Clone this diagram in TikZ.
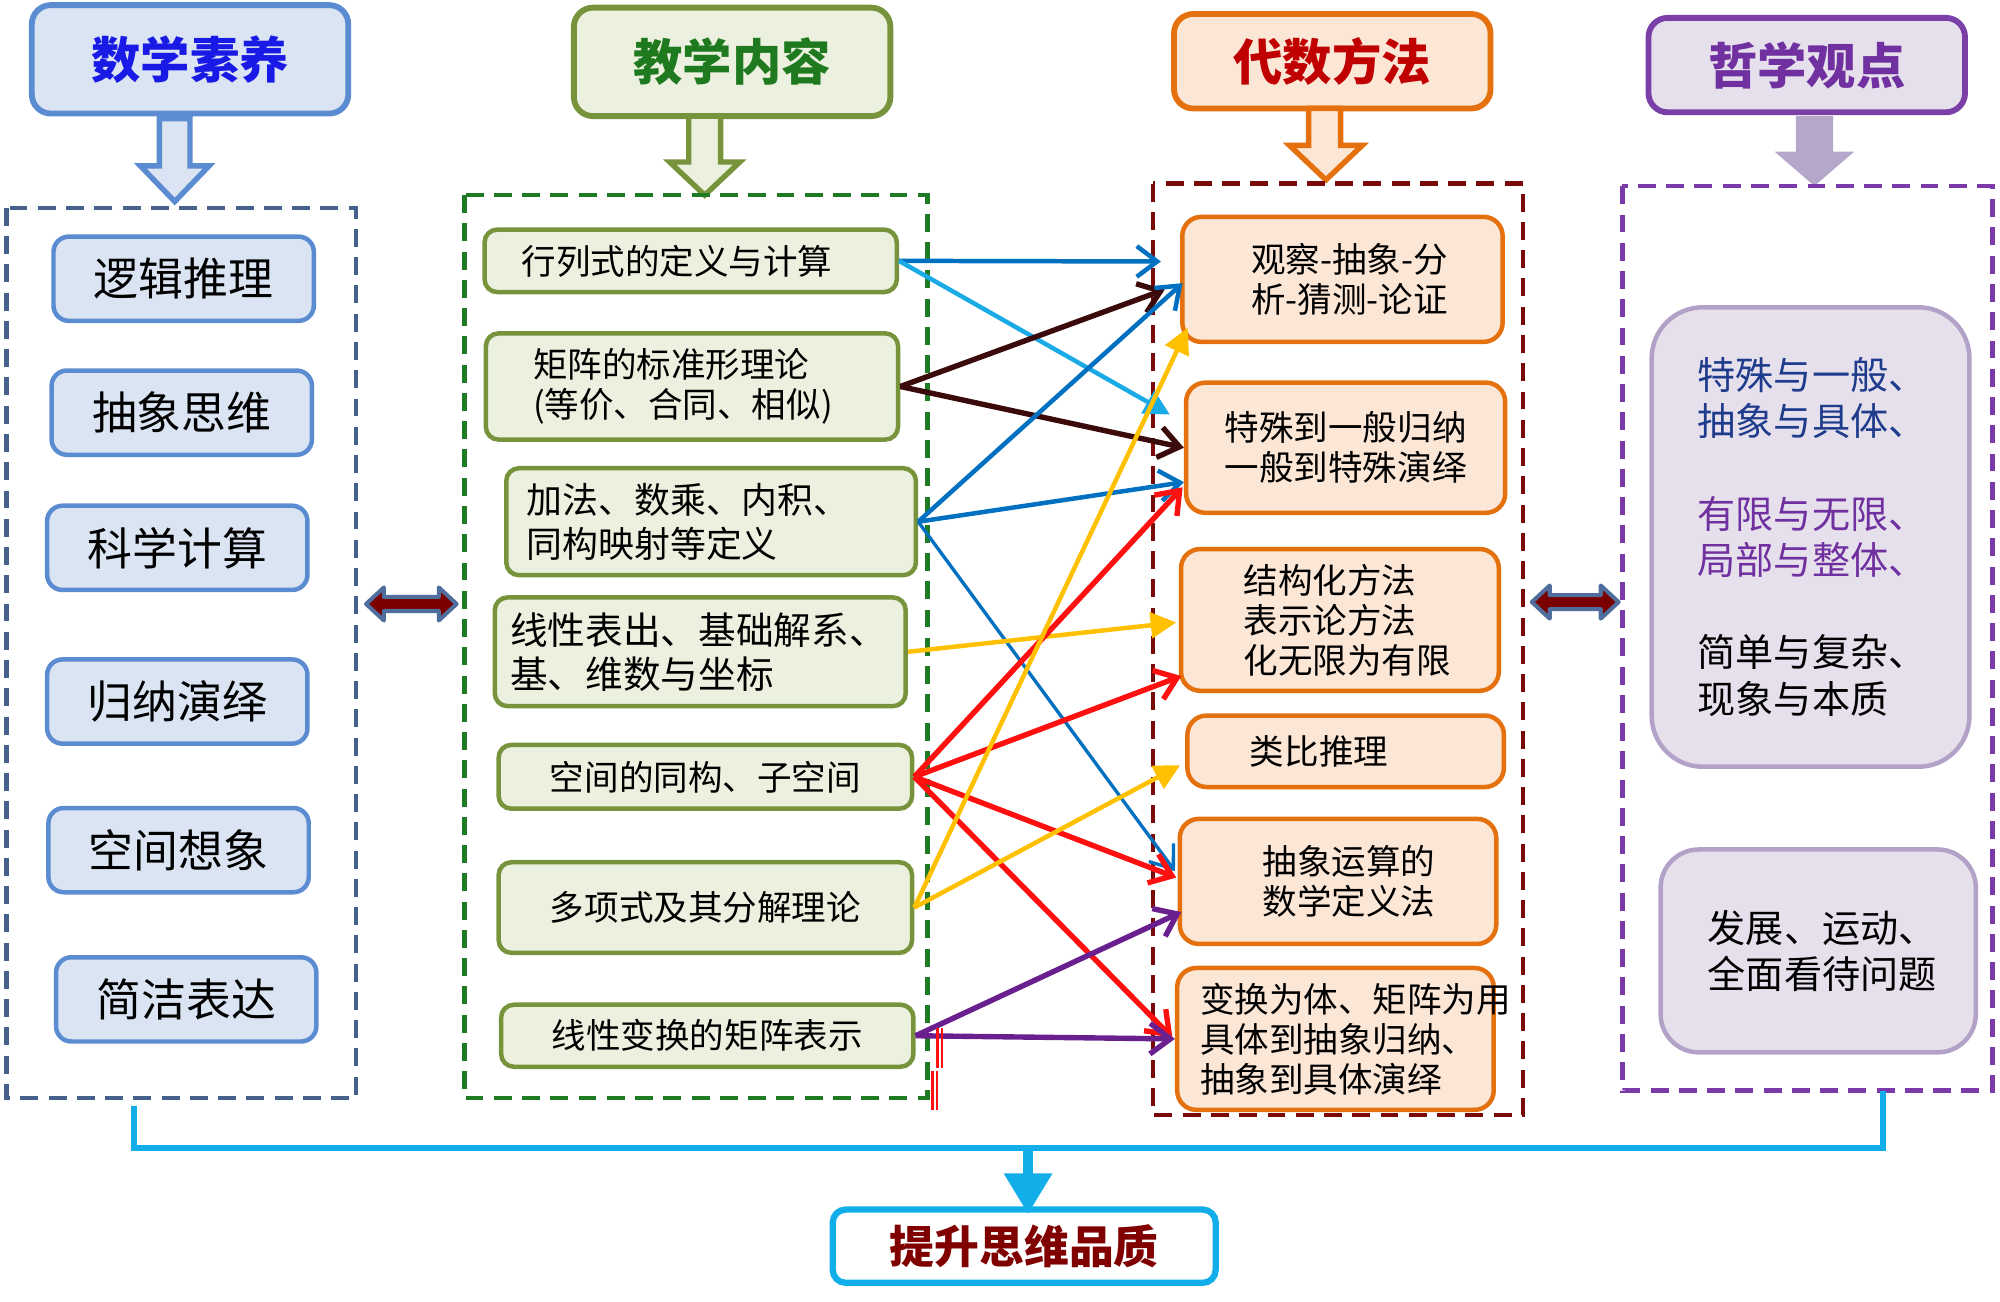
\documentclass[tikz,border=0pt]{standalone}
\usepackage{fontspec}
\setmainfont{Noto Sans CJK SC}
\usetikzlibrary{shapes,arrows.meta,calc}

\definecolor{skillline}{HTML}{5B8BD0}
\definecolor{skillfill}{HTML}{DAE4F2}
\definecolor{skilltext}{HTML}{1A1AE6}
\definecolor{skillframe}{HTML}{46628C}
\definecolor{topicline}{HTML}{77933C}
\definecolor{topicfill}{HTML}{EBF1DE}
\definecolor{topictext}{HTML}{1F7A1F}
\definecolor{topicframe}{HTML}{1F7A24}
\definecolor{methodline}{HTML}{E4700E}
\definecolor{methodfill}{HTML}{FCE6D6}
\definecolor{methodtext}{HTML}{C00000}
\definecolor{methodframe}{HTML}{7A0A0A}
\definecolor{viewline}{HTML}{B3A2C7}
\definecolor{viewhead}{HTML}{7B3FA8}
\definecolor{viewfill}{HTML}{E6E0EC}
\definecolor{viewtext}{HTML}{7030A0}
\definecolor{viewarrow}{HTML}{B5A7CA}
\definecolor{viewframe}{HTML}{7A3AAA}
\definecolor{viewblue}{HTML}{1F3C8C}
\definecolor{twowayfill}{HTML}{7A0000}
\definecolor{twowayline}{HTML}{4F6E9E}
\definecolor{blueA}{HTML}{0070C0}
\definecolor{blueB}{HTML}{1AABE6}
\definecolor{brownA}{HTML}{3B0A0A}
\definecolor{yellowA}{HTML}{FFC000}
\definecolor{redA}{HTML}{FF1010}
\definecolor{purpleA}{HTML}{6A1F8F}
\definecolor{cyanA}{HTML}{12AEEA}
\definecolor{goaltext}{HTML}{800000}

\tikzstyle{headbox} = [draw, rectangle, rounded corners=0.15cm, line width=1.3pt, text centered, minimum width=2.48cm, font=\fontsize{11}{13}\selectfont\bfseries]
\tikzstyle{skillbox} = [draw=skillline, fill=skillfill, rectangle, rounded corners=0.12cm, line width=1pt, minimum width=2.04cm, minimum height=0.66cm, font=\fontsize{10}{12}\selectfont]
\tikzstyle{topicbox} = [draw=topicline, fill=topicfill, rectangle, rounded corners=0.1cm, line width=1pt, minimum width=3.23cm, font=\fontsize{7.7}{9}\selectfont]
\tikzstyle{methodbox} = [draw=methodline, fill=methodfill, rectangle, rounded corners=0.15cm, line width=1pt, font=\fontsize{7.7}{8.9}\selectfont]
\tikzstyle{viewbox} = [draw=viewline, fill=viewfill, rectangle, rounded corners=0.4cm, line width=1pt, font=\fontsize{8.5}{10.3}\selectfont]
\tikzstyle{goalbox} = [draw=cyanA, fill=white, rectangle, rounded corners=0.1cm, line width=1.4pt, text=goaltext, minimum width=3cm, minimum height=0.56cm, font=\fontsize{10}{12}\selectfont\bfseries]
\tikzstyle{dashbox} = [line width=1pt, dash pattern=on 4pt off 2.3pt]
\tikzstyle{bigarrow} = [line width=1.2pt, line join=miter]
\tikzstyle{twoway} = [fill=twowayfill, draw=twowayline, line width=0.9pt, line join=round]
\tikzstyle{line} = [draw, line width=1pt, -{Straight Barb[length=1.6mm,width=2.4mm]}]
\tikzstyle{fline} = [draw, line width=1pt, -{Triangle[length=2mm,width=2mm]}]
\tikzstyle{cyanline} = [draw=cyanA, line width=1.3pt]

\begin{document}
\begin{tikzpicture}[x=0.01cm, y=-0.01cm]
    \useasboundingbox (0,0) rectangle (1568,1020);

    % headers
    \node[headbox, draw=skillline, fill=skillfill, text=skilltext, minimum height=0.85cm] (suyang) at (149,46.5) {数学素养};
    \node[headbox, draw=topicline, fill=topicfill, text=topictext, minimum height=0.85cm] (neirong) at (574,48.5) {教学内容};
    \node[headbox, draw=methodline, fill=methodfill, text=methodtext, minimum height=0.74cm] (fangfa) at (1044.5,48) {代数方法};
    \node[headbox, draw=viewhead, fill=viewfill, text=viewtext, minimum height=0.74cm] (guandian) at (1416.5,51) {哲学观点};

    % hollow arrows under the headers
    \draw[bigarrow, draw=skillline, fill=skillfill] (125,93) -- (149,93) -- (149,130) -- (164,130) -- (137,158) -- (110,130) -- (125,130) -- cycle;
    \draw[bigarrow, draw=topicline, fill=topicfill] (540,91) -- (565,91) -- (565,127) -- (580,127) -- (552.5,153) -- (525,127) -- (540,127) -- cycle;
    \draw[bigarrow, draw=methodline, fill=methodfill] (1026,85) -- (1051,85) -- (1051,114) -- (1068,114) -- (1039.5,141) -- (1011,114) -- (1026,114) -- cycle;
    \draw[bigarrow, draw=viewarrow, fill=viewarrow] (1410,93) -- (1435,93) -- (1435,121) -- (1448,121) -- (1422.5,143) -- (1397,121) -- (1410,121) -- cycle;

    % dashed frames
    \draw[dashbox, draw=skillframe] (5,163) rectangle (279,861);
    \draw[dashbox, draw=topicframe] (364,153) rectangle (727,861);
    \draw[dashbox, draw=methodframe] (904,144) rectangle (1194,874);
    \draw[dashbox, draw=viewframe] (1272,146) rectangle (1562,855);

    % literacy
    \node[skillbox] (luoji) at (144,218.5) {逻辑推理};
    \node[skillbox] (chouxiang) at (142.5,323.5) {抽象思维};
    \node[skillbox] (kexue) at (139,429.5) {科学计算};
    \node[skillbox] (guina) at (139,550) {归纳演绎};
    \node[skillbox] (kongjian) at (140,666.5) {空间想象};
    \node[skillbox] (jianjie) at (146,783.5) {简洁表达};

    % teaching content
    \node[topicbox, minimum height=0.49cm, align=left, text width=2.65cm, inner xsep=0.29cm] (hanglie) at (541.5,204.5) {行列式的定义与计算};
    \node[topicbox, minimum height=0.80cm, align=left, text width=2.49cm, inner xsep=0.37cm] (juzhen) at (542.5,303) {矩阵的标准形理论\\(等价、合同、相似)};
    \node[topicbox, minimum width=3.21cm, minimum height=0.68cm, align=left, text width=2.89cm, inner xsep=0.16cm, font=\fontsize{8}{9.8}\selectfont] (jiafa) at (557.5,409) {加法、数乘、内积、\\同构映射等定义};
    \node[topicbox, minimum width=3.22cm, minimum height=0.82cm, align=left, text width=2.98cm, inner xsep=0.12cm, font=\fontsize{8.4}{9.8}\selectfont] (biaochu) at (549,511) {线性表出、基础解系、\\基、维数与坐标};
    \node[topicbox, minimum width=3.24cm, minimum height=0.50cm] (tonggou) at (553,609) {空间的同构、子空间};
    \node[topicbox, minimum width=3.24cm, minimum height=0.71cm] (duoxiang) at (553,711.5) {多项式及其分解理论};
    \node[topicbox, minimum height=0.48cm] (bianhuan) at (554.5,812) {线性变换的矩阵表示};

    % algebra methods
    \node[methodbox, minimum width=2.51cm, minimum height=0.98cm, align=left, text width=1.43cm, inner xsep=0.54cm] (guancha) at (1052.5,219) {\mbox{观察-抽象-分}\\\mbox{析-猜测-论证}};
    \node[methodbox, minimum width=2.50cm, minimum height=1.02cm, align=center] (teshu) at (1055,351) {特殊到一般归纳\\一般到特殊演绎};
    \node[methodbox, minimum width=2.49cm, minimum height=0.96cm, align=left, text width=1.51cm, inner xsep=0.49cm] (jiegou) at (1050.5,486) {结构化方法\\表示论方法\\化无限为有限};
    \node[methodbox, minimum width=2.48cm, minimum height=0.56cm, align=left, text width=1.50cm, inner xsep=0.49cm] (leibi) at (1055,589) {类比推理};
    \node[methodbox, minimum width=2.48cm, minimum height=0.98cm, align=left, text width=1.18cm, inner xsep=0.65cm] (yunsuan) at (1049,691) {抽象运算的\\数学定义法};
    \node[methodbox, minimum width=2.48cm, minimum height=1.09cm, align=left, text width=2.12cm, inner xsep=0.18cm] (tiyong) at (1047,814.5) {变换为体、矩阵为用\\具体到抽象归纳、\\抽象到具体演绎};

    % philosophy
    \node[viewbox, minimum width=2.49cm, minimum height=3.60cm, align=left, text width=1.77cm, inner xsep=0.36cm] (yiban) at (1419.5,421) {\textcolor{viewblue}{特殊与一般、}\\\textcolor{viewblue}{抽象与具体、}\\[10.3pt]\textcolor{viewtext}{有限与无限、}\\\textcolor{viewtext}{局部与整体、}\\[10.3pt]简单与复杂、\\现象与本质};
    \node[viewbox, rounded corners=0.3cm, minimum width=2.47cm, minimum height=1.59cm, align=left, text width=1.73cm, inner xsep=0.37cm] (fazhan) at (1425.5,745.5) {发展、运动、\\全面看待问题};

    % two-way arrows between the frames
    \draw[twoway] (287,473.5) -- (301,460.5) -- (301,468) -- (344,468) -- (344,460.5) -- (358,473.5) -- (344,486.5) -- (344,479) -- (301,479) -- (301,486.5) -- cycle;
    \draw[twoway] (1201,472) -- (1215,459) -- (1215,466.5) -- (1255,466.5) -- (1255,459) -- (1269,472) -- (1255,485) -- (1255,477.5) -- (1215,477.5) -- (1215,485) -- cycle;

    % content -> method
    \path[line, draw=blueA] (hanglie.east) -- ($(guancha.west)+(-15,-14)$);
    \path[fline, draw=blueB, fill=blueB] (hanglie.east) -- ($(teshu.west)+(-11,-26)$);
    \path[line, draw=brownA, line width=1.2pt] (juzhen.east) -- ($(guancha.west)+(-12,8)$);
    \path[line, draw=brownA, line width=1.2pt] (juzhen.east) -- (teshu.west);
    \path[line, draw=blueA] (jiafa.east) -- ($(guancha.west)+(2,3)$);
    \path[line, draw=blueA] (jiafa.east) -- ($(teshu.west)+(0,27)$);
    \path[line, draw=blueA, line width=0.75pt] (jiafa.east) -- ($(yunsuan.west)+(-2,-8)$);
    \path[fline, draw=yellowA, fill=yellowA] (biaochu.east) -- ($(jiegou.west)+(-2,2)$);
    \path[line, draw=redA, line width=1.2pt] (tonggou.east) -- ($(teshu.west)+(-1,31)$);
    \path[line, draw=redA, line width=1.2pt] (tonggou.east) -- ($(jiegou.west)+(2,44)$);
    \path[line, draw=redA, line width=1.2pt] (tonggou.east) -- ($(yunsuan.west)+(-1,-3)$);
    \path[line, draw=redA, line width=1.2pt] (tonggou.east) -- ($(tiyong.west)+(-2,-1)$);
    \path[fline, draw=yellowA, fill=yellowA] (duoxiang.east) -- ($(guancha.west)+(6,38)$);
    \path[fline, draw=yellowA, fill=yellowA] (duoxiang.east) -- ($(leibi.west)+(-4,11)$);
    \path[line, draw=purpleA, line width=1.2pt] (bianhuan.east) -- ($(yunsuan.west)+(3,24)$);
    \path[line, draw=purpleA, line width=1.2pt] (bianhuan.east) -- (tiyong.west);

    % stray red marks
    \draw[redA, line width=0.5pt] (735,806) -- (735,837) (738.5,806) -- (738.5,837);
    \draw[redA, line width=0.5pt] (731,840) -- (731,870) (734.5,840) -- (734.5,870);

    % bottom
    \coordinate (lfoot) at (105,867);
    \coordinate (rfoot) at (1476,855);
    \coordinate (joint) at (806,900);
    \node[goalbox] (pinzhi) at (803,977) {提升思维品质};
    \draw[cyanline] (lfoot) -- (105,900) -- (1476,900) -- (rfoot);
    \draw[cyanline, line width=2.3pt, -{Triangle[length=0.32cm,width=0.36cm]}] (joint) -- ($(pinzhi.north)+(3,6)$);
\end{tikzpicture}
\end{document}
